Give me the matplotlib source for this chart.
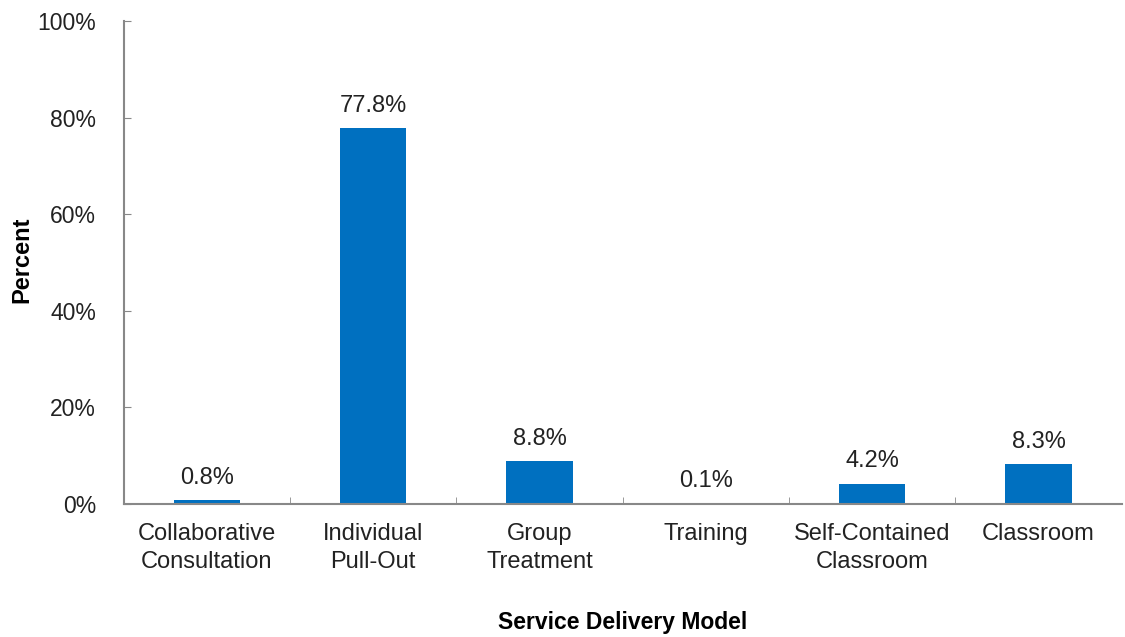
import matplotlib
matplotlib.use("Agg")
import matplotlib.pyplot as plt
import matplotlib.ticker as ticker

plt.rcParams['font.family'] = ['Liberation Sans', 'DejaVu Sans']

categories = ['Collaborative\nConsultation', 'Individual\nPull-Out', 'Group\nTreatment',
              'Training', 'Self-Contained\nClassroom', 'Classroom']
values = [0.8, 77.8, 8.8, 0.1, 4.2, 8.3]

fig = plt.figure(figsize=(11.25, 6.37), dpi=100)
ax = fig.add_axes([0.110, 0.209, 0.887, 0.758])

x = range(len(categories))
ax.bar(x, values, width=0.4, color='#0070C0')

for xi, v in zip(x, values):
    ax.text(xi, v + 2.3, f'{v:.1f}%', ha='center', va='bottom', fontsize=17, color='#222222')

ax.set_xlim(-0.5, len(categories) - 0.5)
ax.set_ylim(0, 100)
ax.yaxis.set_major_locator(ticker.MultipleLocator(20))
ax.yaxis.set_major_formatter(ticker.FuncFormatter(lambda v, p: f'{v:.0f}%'))

# category labels centred, ticks drawn between categories
ax.set_xticks(list(x))
ax.set_xticklabels(categories, fontsize=17, color='#222222', linespacing=1.35)
ax.tick_params(axis='x', length=0, pad=14)
ax.set_xticks([i + 0.5 for i in range(len(categories) - 1)], minor=True)
ax.tick_params(axis='x', which='minor', direction='in', length=5, color='#888888')
ax.tick_params(axis='y', direction='in', length=5, color='#888888',
               labelsize=16.5, labelcolor='#222222', pad=20)

for side in ['top', 'right']:
    ax.spines[side].set_visible(False)
for side in ['left', 'bottom']:
    ax.spines[side].set_color('#888888')
    ax.spines[side].set_linewidth(1.5)

ax.set_ylabel('Percent', fontsize=17, fontweight='bold')
ax.yaxis.set_label_coords(-0.091, 0.505)
ax.set_xlabel('Service Delivery Model', fontsize=16.5, fontweight='bold')
ax.xaxis.set_label_coords(0.5, -0.222)

fig.savefig('out.png', dpi=100)
